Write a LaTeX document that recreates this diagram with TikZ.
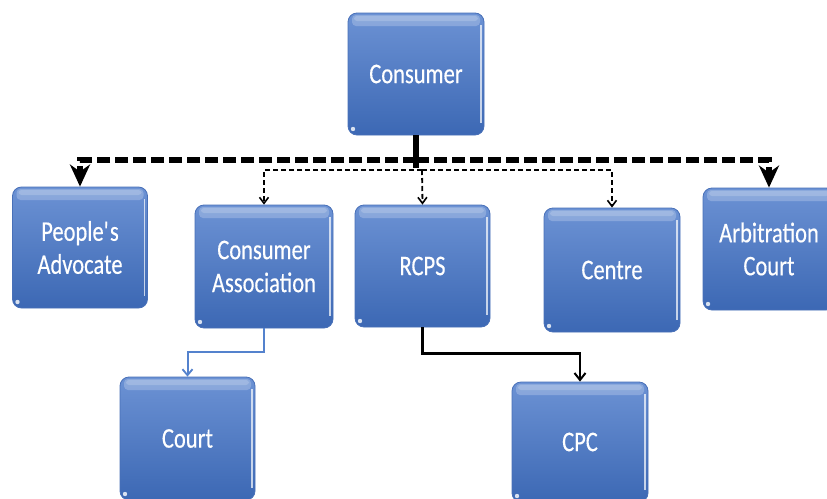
\documentclass[tikz,border=0pt]{standalone}
\usepackage{fontspec}
\setmainfont{Carlito}
\usetikzlibrary{arrows.meta}

\definecolor{boxtop}{RGB}{108,146,212}
\definecolor{boxmid}{RGB}{80,124,196}
\definecolor{boxbot}{RGB}{60,104,180}
\definecolor{boxedge}{RGB}{72,112,184}
\definecolor{bluelink}{RGB}{84,130,205}

\tikzset{
  orgbox/.style={
    rounded corners=9pt, draw=boxedge, line width=0.8pt,
    top color=boxtop, middle color=boxmid, bottom color=boxbot,
    minimum width=136pt, minimum height=122pt, inner sep=0pt,
    text=white, align=center,
    font=\fontsize{28.5}{33}\selectfont\addfontfeature{FakeStretch=0.79,FakeBold=0.3},
    path picture={
      % glossy band along the top edge
      \fill[white,opacity=0.22,rounded corners=4pt]
        ([xshift=4pt,yshift=-2pt]path picture bounding box.north west)
        rectangle ([xshift=-4pt,yshift=-13pt]path picture bounding box.north east);
      \fill[white,opacity=0.18,rounded corners=3pt]
        ([xshift=6pt,yshift=-3pt]path picture bounding box.north west)
        rectangle ([xshift=-6pt,yshift=-8pt]path picture bounding box.north east);
      % bright rim on the right side
      \draw[white,opacity=0.7,line width=1.6pt]
        ([xshift=-3pt,yshift=-12pt]path picture bounding box.north east)
        -- ([xshift=-3pt,yshift=12pt]path picture bounding box.south east);
      % small highlight in the lower left corner
      \fill[white,opacity=0.8]
        ([xshift=5pt,yshift=6pt]path picture bounding box.south west) circle (2.2pt);
    }
  },
  trunk/.style={line width=5.5pt, black},
  bigdash/.style={line width=5.8pt, dash pattern=on 13pt off 5pt,
    -{Stealth[length=22pt,width=20pt,inset=7pt]}},
  smalldash/.style={line width=1.8pt, dash pattern=on 5pt off 3pt,
    -{Straight Barb[length=6pt,width=9pt,line width=1.6pt]}},
  bluelinkstyle/.style={line width=2pt, bluelink,
    -{Straight Barb[length=6pt,width=10pt,line width=1.8pt]}},
  blacklink/.style={line width=2.4pt, black,
    -{Straight Barb[length=7pt,width=11pt,line width=2pt]}}
}

\begin{document}
\begin{tikzpicture}[x=1pt,y=-1pt]
  \useasboundingbox (0,0) rectangle (827,498);
  \clip (0,0) rectangle (827,498);
  \fill[white] (0,0) rectangle (827,498);

  % boxes
  \node[orgbox, minimum height=122pt] (cons) at (416,74) {Consumer};
  \node[orgbox, minimum width=135pt, minimum height=121pt] (padv) at (80,247.5) {People\textquotesingle s\\Advocate};
  \node[orgbox, minimum width=138pt, minimum height=123pt] (ca) at (264,266.5) {Consumer\\Association};
  \node[orgbox, minimum width=135pt, minimum height=122pt] (rcps) at (422.5,266) {RCPS};
  \node[orgbox, minimum width=136pt, minimum height=124pt] (centre) at (612,270) {Centre};
  \node[orgbox, minimum width=132pt, minimum height=122pt] (arb) at (769,249) {Arbitration\\Court};
  \node[orgbox, minimum width=135pt, minimum height=123pt] (court) at (187.5,438.5) {Court};
  \node[orgbox, minimum width=136pt, minimum height=120pt] (cpc) at (580,442) {CPC};

  % junction points below Consumer
  \coordinate (hub) at (416,160);
  \coordinate (split) at (422,170);

  % main trunk and the thick dashed branch
  \draw[trunk] (cons.south) -- (416,168);
  \draw[bigdash] (hub) -| (padv.north);
  \draw[bigdash] (hub) -| (arb.north);

  % thin dashed branch
  \draw[smalldash] (split) -| (ca.north);
  \draw[smalldash] (split) -- (rcps.north);
  \draw[smalldash] (split) -| (centre.north);

  % lower level links
  \draw[bluelinkstyle] (ca.south) -- ++(0,24) -| (court.north);
  \draw[blacklink] (rcps.south) -- ++(0,26) -| (cpc.north);
\end{tikzpicture}
\end{document}
